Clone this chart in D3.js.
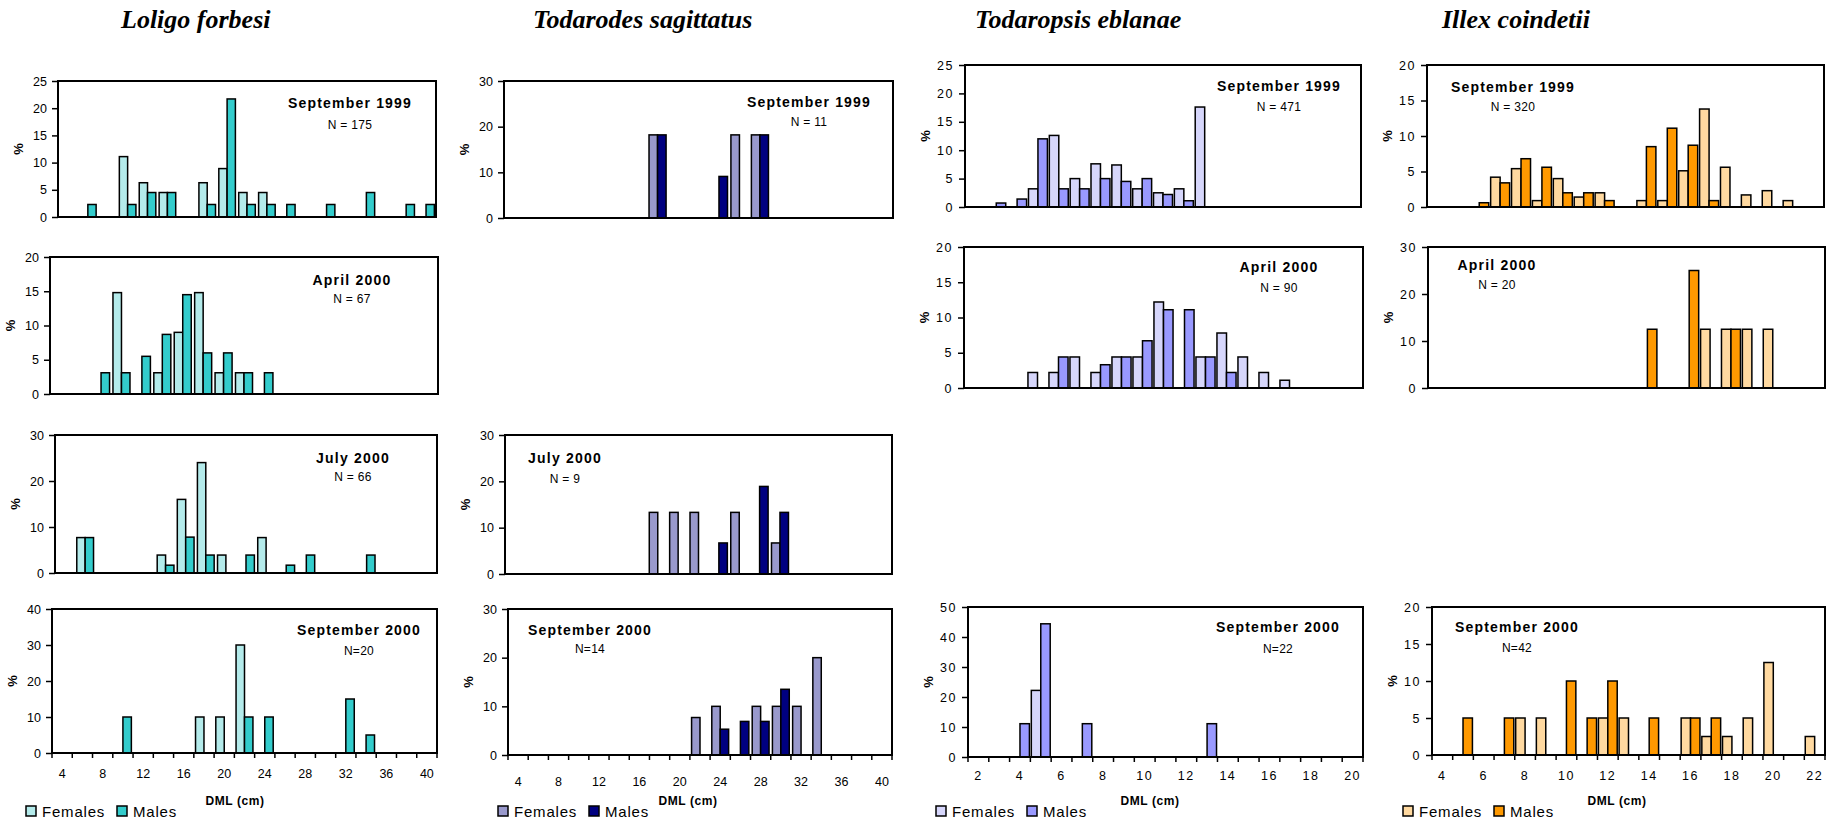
<!DOCTYPE html>
<html>
<head>
<meta charset="utf-8">
<script src="https://cdn.jsdelivr.net/npm/d3@7"></script>
<style>
  body { margin: 0; background: #fff; }
  svg { display: block; font-family: Arial, "Liberation Sans", sans-serif; }
</style>
</head>
<body>
<svg id="chart" width="1838" height="823"></svg>
<script>
// length classes (DML, cm) used as categories
const dmlLong = [4, 6, 8, 10, 12, 14, 16, 18, 20, 22, 24, 26, 28, 30, 32, 34, 36, 38, 40];
const dmlTodaropsis = [2, 3, 4, 5, 6, 7, 8, 9, 10, 11, 12, 13, 14, 15, 16, 17, 18, 19, 20];
const dmlIllex = [4, 5, 6, 7, 8, 9, 10, 11, 12, 13, 14, 15, 16, 17, 18, 19, 20, 21, 22];

// y tick labels
const ticks20 = [0, 5, 10, 15, 20];
const ticks25 = [0, 5, 10, 15, 20, 25];
const ticks30 = [0, 10, 20, 30];
const ticks40 = [0, 10, 20, 30, 40];
const ticks50 = [0, 10, 20, 30, 40, 50];

// Loligo forbesi (% per class)
const lfSep99F = [0, 0, 0, 11.1, 6.3, 4.5, 0, 6.3, 8.9, 4.5, 4.5, 0, 0, 0, 0, 0, 0, 0, 0];
const lfSep99M = [0, 2.3, 0, 2.3, 4.5, 4.5, 0, 2.3, 21.7, 2.3, 2.3, 2.3, 0, 2.3, 0, 4.5, 0, 2.3, 2.3];
const lfApr00F = [0, 0, 0, 14.8, 0, 3.1, 9.0, 14.8, 3.1, 3.1, 0, 0, 0, 0, 0, 0, 0, 0, 0];
const lfApr00M = [0, 0, 3.1, 3.1, 5.5, 8.7, 14.5, 6.0, 6.0, 3.1, 3.1, 0, 0, 0, 0, 0, 0, 0, 0];
const lfJul00F = [0, 7.7, 0, 0, 0, 3.9, 16.0, 24.0, 3.9, 0, 7.7, 0, 0, 0, 0, 0, 0, 0, 0];
const lfJul00M = [0, 7.7, 0, 0, 0, 1.7, 7.8, 3.9, 0, 3.9, 0, 1.7, 3.9, 0, 0, 3.9, 0, 0, 0];
const lfSep00F = [0, 0, 0, 0, 0, 0, 0, 10, 10, 30, 0, 0, 0, 0, 0, 0, 0, 0, 0];
const lfSep00M = [0, 0, 0, 10, 0, 0, 0, 0, 0, 10, 10, 0, 0, 0, 15, 5, 0, 0, 0];

// Todarodes sagittatus
const tsSep99F = [0, 0, 0, 0, 0, 0, 0, 18.2, 0, 0, 0, 18.2, 18.2, 0, 0, 0, 0, 0, 0];
const tsSep99M = [0, 0, 0, 0, 0, 0, 0, 18.2, 0, 0, 9.1, 0, 18.2, 0, 0, 0, 0, 0, 0];
const tsJul00F = [0, 0, 0, 0, 0, 0, 0, 13.3, 13.3, 13.3, 0, 13.3, 0, 6.7, 0, 0, 0, 0, 0];
const tsJul00M = [0, 0, 0, 0, 0, 0, 0, 0, 0, 0, 6.7, 0, 18.9, 13.3, 0, 0, 0, 0, 0];
const tsSep00F = [0, 0, 0, 0, 0, 0, 0, 0, 0, 7.7, 10, 0, 10, 10, 10, 20, 0, 0, 0];
const tsSep00M = [0, 0, 0, 0, 0, 0, 0, 0, 0, 0, 5.3, 6.9, 6.9, 13.5, 0, 0, 0, 0, 0];

// Todaropsis eblanae
const teSep99F = [0, 0, 0, 3.2, 12.6, 5.0, 7.6, 7.4, 3.2, 2.5, 3.2, 17.6, 0, 0, 0, 0, 0, 0, 0];
const teSep99M = [0, 0.7, 1.4, 12.0, 3.2, 3.2, 5.0, 4.5, 5.0, 2.2, 1.1, 0, 0, 0, 0, 0, 0, 0, 0];
const teApr00F = [0, 0, 0, 2.2, 2.2, 4.4, 2.2, 4.4, 4.4, 12.2, 0, 4.4, 7.8, 4.4, 2.2, 1.1, 0, 0, 0];
const teApr00M = [0, 0, 0, 0, 4.4, 0, 3.3, 4.4, 6.7, 11.1, 11.1, 4.4, 2.2, 0, 0, 0, 0, 0, 0];
const teSep00F = [0, 0, 0, 22.2, 0, 0, 0, 0, 0, 0, 0, 0, 0, 0, 0, 0, 0, 0, 0];
const teSep00M = [0, 0, 11.1, 44.4, 0, 11.1, 0, 0, 0, 0, 0, 11.1, 0, 0, 0, 0, 0, 0, 0];

// Illex coindetii
const icSep99F = [0, 0, 0, 4.2, 5.4, 0.9, 4.0, 1.4, 2.0, 0, 0.9, 0.9, 5.1, 13.8, 5.6, 1.7, 2.3, 0.9, 0];
const icSep99M = [0, 0, 0.6, 3.4, 6.8, 5.6, 2.0, 2.0, 0.9, 0, 8.5, 11.1, 8.7, 0.9, 0, 0, 0, 0, 0];
const icApr00F = [0, 0, 0, 0, 0, 0, 0, 0, 0, 0, 0, 0, 0, 12.5, 12.5, 12.5, 12.5, 0, 0];
const icApr00M = [0, 0, 0, 0, 0, 0, 0, 0, 0, 0, 12.5, 0, 25, 0, 12.5, 0, 0, 0, 0];
const icSep00F = [0, 0, 0, 0, 5, 5, 0, 0, 5, 5, 0, 0, 5, 2.5, 2.5, 5, 12.5, 0, 2.5];
const icSep00M = [0, 5, 0, 5, 0, 0, 10, 5, 10, 0, 5, 0, 5, 5, 0, 0, 0, 0, 0];

const serif = "'Times New Roman', 'Liberation Serif', serif";
const sans = "Arial, 'Liberation Sans', sans-serif";

const species = [
  {name: "Loligo forbesi", cats: dmlLong, fem: "#b4ebeb", mal: "#33cccc", pad: 0.2,
   titleX: 121, legX: 26, dmlX: 235, tickY: 25, spacing: 0},
  {name: "Todarodes sagittatus", cats: dmlLong, fem: "#9999cc", mal: "#000080", pad: 0.2,
   titleX: 533, legX: 498, dmlX: 688, tickY: 31, spacing: 0},
  {name: "Todaropsis eblanae", cats: dmlTodaropsis, fem: "#d6d6fb", mal: "#9999ff", pad: 0.1,
   titleX: 975, legX: 936, dmlX: 1150, tickY: 23, spacing: 1.5},
  {name: "Illex coindetii", cats: dmlIllex, fem: "#ffd9a0", mal: "#ff9900", pad: 0.1,
   titleX: 1442, legX: 1403, dmlX: 1617, tickY: 25, spacing: 1.5}
];

// one entry per small chart: box, y ticks, series, annotation place
const panels = [
  {sp: 0, x0: 58, x1: 436, y0: 81, y1: 217, ticks: ticks25, f: lfSep99F, m: lfSep99M,
   label: "September 1999", n: "N = 175", lx: 350, ly: 108, ny: 129},
  {sp: 0, x0: 50, x1: 438, y0: 257, y1: 394, ticks: ticks20, f: lfApr00F, m: lfApr00M,
   label: "April 2000", n: "N = 67", lx: 352, ly: 285, ny: 303},
  {sp: 0, x0: 55, x1: 437, y0: 435, y1: 573, ticks: ticks30, f: lfJul00F, m: lfJul00M,
   label: "July 2000", n: "N = 66", lx: 353, ly: 463, ny: 481},
  {sp: 0, x0: 52, x1: 437, y0: 609, y1: 753, ticks: ticks40, f: lfSep00F, m: lfSep00M,
   label: "September 2000", n: "N=20", lx: 359, ly: 635, ny: 655, axis: true},

  {sp: 1, x0: 504, x1: 893, y0: 81, y1: 218, ticks: ticks30, f: tsSep99F, m: tsSep99M,
   label: "September 1999", n: "N = 11", lx: 809, ly: 107, ny: 126},
  {sp: 1, x0: 505, x1: 892, y0: 435, y1: 574, ticks: ticks30, f: tsJul00F, m: tsJul00M,
   label: "July 2000", n: "N = 9", lx: 565, ly: 463, ny: 483},
  {sp: 1, x0: 508, x1: 892, y0: 609, y1: 755, ticks: ticks30, f: tsSep00F, m: tsSep00M,
   label: "September 2000", n: "N=14", lx: 590, ly: 635, ny: 653, axis: true},

  {sp: 2, x0: 965, x1: 1361, y0: 65, y1: 207, ticks: ticks25, f: teSep99F, m: teSep99M,
   label: "September 1999", n: "N = 471", lx: 1279, ly: 91, ny: 111},
  {sp: 2, x0: 964, x1: 1363, y0: 247, y1: 388, ticks: ticks20, f: teApr00F, m: teApr00M,
   label: "April 2000", n: "N = 90", lx: 1279, ly: 272, ny: 292},
  {sp: 2, x0: 968, x1: 1363, y0: 607, y1: 757, ticks: ticks50, f: teSep00F, m: teSep00M,
   label: "September 2000", n: "N=22", lx: 1278, ly: 632, ny: 653, axis: true},

  {sp: 3, x0: 1427, x1: 1824, y0: 65, y1: 207, ticks: ticks20, f: icSep99F, m: icSep99M,
   label: "September 1999", n: "N = 320", lx: 1513, ly: 92, ny: 111},
  {sp: 3, x0: 1428, x1: 1825, y0: 247, y1: 388, ticks: ticks30, f: icApr00F, m: icApr00M,
   label: "April 2000", n: "N = 20", lx: 1497, ly: 270, ny: 289},
  {sp: 3, x0: 1432, x1: 1825, y0: 607, y1: 755, ticks: ticks20, f: icSep00F, m: icSep00M,
   label: "September 2000", n: "N=42", lx: 1517, ly: 632, ny: 652, axis: true}
];

const svg = d3.select("#chart");

// species titles, axis titles and legends
species.forEach(sp => {
  svg.append("text")
    .attr("x", sp.titleX).attr("y", 28)
    .attr("font-family", serif).attr("font-size", 26)
    .attr("font-weight", "bold").attr("font-style", "italic")
    .text(sp.name);

  svg.append("text")
    .attr("x", sp.dmlX).attr("y", 805)
    .attr("text-anchor", "middle")
    .attr("font-family", sans).attr("font-size", 12).attr("font-weight", "bold")
    .attr("letter-spacing", 0.6)
    .text("DML (cm)");

  const leg = svg.append("g").attr("transform", `translate(${sp.legX},811)`);
  [["Females", sp.fem, 0], ["Males", sp.mal, 91]].forEach(([t, c, dx]) => {
    leg.append("rect").attr("x", dx).attr("y", -5).attr("width", 10).attr("height", 10)
      .attr("fill", c).attr("stroke", "#000").attr("stroke-width", 1.5);
    leg.append("text").attr("x", dx + 16).attr("y", 5.5)
      .attr("font-family", sans).attr("font-size", 15).attr("letter-spacing", 0.8)
      .text(t);
  });
});

panels.forEach(p => {
  const sp = species[p.sp];
  const x = d3.scaleBand().domain(sp.cats).range([p.x0, p.x1]);
  const xs = d3.scaleBand().domain(["F", "M"]).range([0, x.bandwidth()])
    .paddingInner(0).paddingOuter(sp.pad);
  const y = d3.scaleLinear().domain([0, d3.max(p.ticks)]).range([p.y1, p.y0]);

  const g = svg.append("g");
  const rows = sp.cats.map((c, i) => ({c: c, F: p.f[i], M: p.m[i]}));

  g.selectAll("g.cat").data(rows).join("g")
    .attr("class", "cat")
    .attr("transform", d => `translate(${x(d.c)},0)`)
    .selectAll("rect")
    .data(d => ["F", "M"].map(k => ({k: k, v: d[k]})).filter(e => e.v > 0))
    .join("rect")
    .attr("x", e => xs(e.k))
    .attr("y", e => y(e.v))
    .attr("width", xs.bandwidth())
    .attr("height", e => y(0) - y(e.v))
    .attr("fill", e => e.k === "F" ? sp.fem : sp.mal)
    .attr("stroke", "#000").attr("stroke-width", 1.5);

  // plot frame
  g.append("rect")
    .attr("x", p.x0).attr("y", p.y0)
    .attr("width", p.x1 - p.x0).attr("height", p.y1 - p.y0)
    .attr("fill", "none").attr("stroke", "#000").attr("stroke-width", 2);

  // y axis
  g.append("g")
    .attr("transform", `translate(${p.x0},0)`)
    .call(d3.axisLeft(y).tickValues(p.ticks).tickSize(6).tickPadding(5).tickSizeOuter(0))
    .attr("font-size", 12.5).attr("font-family", sans)
    .call(a => a.select(".domain").remove())
    .call(a => a.selectAll("line").attr("stroke", "#000").attr("stroke-width", 1.5))
    .call(a => a.selectAll("text").attr("fill", "#000").attr("letter-spacing", sp.spacing));

  g.append("text")
    .attr("transform", `translate(${p.x0 - 35},${(p.y0 + p.y1) / 2}) rotate(-90)`)
    .attr("text-anchor", "middle")
    .attr("font-family", sans).attr("font-size", 13).attr("font-weight", "bold")
    .text("%");

  // sample label
  g.append("text")
    .attr("x", p.lx).attr("y", p.ly).attr("text-anchor", "middle")
    .attr("font-family", sans).attr("font-size", 14).attr("font-weight", "bold")
    .attr("letter-spacing", 1.2)
    .text(p.label);
  g.append("text")
    .attr("x", p.lx).attr("y", p.ny).attr("text-anchor", "middle")
    .attr("font-family", sans).attr("font-size", 12).attr("letter-spacing", 0.3)
    .text(p.n);

  if (p.axis) {
    const ax = g.append("g")
      .attr("transform", `translate(0,${p.y1})`)
      .call(d3.axisBottom(x)
        .tickValues(sp.cats.filter((d, i) => i % 2 === 0))
        .tickSize(0).tickPadding(sp.tickY - 8.5))
      .attr("font-size", 12.5).attr("font-family", sans);
    ax.select(".domain").remove();
    ax.selectAll("text").attr("fill", "#000").attr("letter-spacing", sp.spacing);

    const bounds = sp.cats.map(c => x(c)).concat([p.x1]);
    g.selectAll("line.bound").data(bounds).join("line")
      .attr("class", "bound")
      .attr("x1", d => d).attr("x2", d => d)
      .attr("y1", p.y1).attr("y2", p.y1 + 5)
      .attr("stroke", "#000").attr("stroke-width", 1.5);
  }
});
</script>
</body>
</html>
